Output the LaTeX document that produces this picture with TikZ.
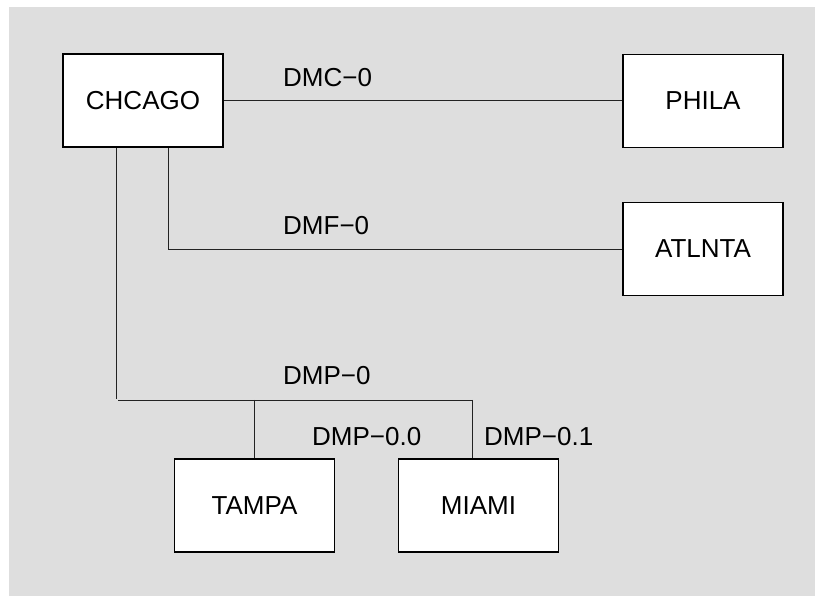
\documentclass[tikz,border=0pt]{standalone}
\usepackage{fontspec}
\setmainfont{Liberation Sans}
\definecolor{bggray}{HTML}{DEDEDE}
\definecolor{linegray}{HTML}{222222}
\begin{document}
\begin{tikzpicture}[x=1pt,y=1pt,
  box/.style={draw=black, line width=1.8pt, fill=white, minimum width=160pt, minimum height=93pt, font=\fontsize{26}{31}\selectfont, inner sep=0pt},
  link/.style={line width=0.9pt, draw=linegray},
  lbl/.style={anchor=base west, inner sep=0pt, font=\fontsize{26}{31}\selectfont}]
\useasboundingbox (0,0) rectangle (817,596);
\fill[bggray] (9,0) rectangle (815,589);
\node[box] (CHCAGO) at (143,495.5) {CHCAGO};
\node[box] (PHILA) at (703,495) {PHILA};
\node[box] (ATLNTA) at (703,347) {ATLNTA};
\node[box] (TAMPA) at (254.5,90.5) {TAMPA};
\node[box] (MIAMI) at (478.5,90.5) {MIAMI};
% connectors
\draw[link] (CHCAGO.east) -- (CHCAGO.east -| PHILA.west);
\coordinate (f) at (168,347);
\draw[link] (CHCAGO.south -| f) -- (f) -- (ATLNTA.west);
\coordinate (p1) at (116,197);
\draw[link] (CHCAGO.south -| p1) -- (p1);
\coordinate (pl) at (118,196);
\coordinate (pr) at (473,196);
\draw[link] (pl) -- (pr);
\coordinate (t) at (254,196);
\draw[link] (t) -- (t |- TAMPA.north);
\coordinate (m) at (472,196);
\draw[link] (m) -- (m |- MIAMI.north);
% labels
\node[lbl] (l1) at (283,509) {DMC−0};
\node[lbl] (l2) at (283,361) {DMF−0};
\node[lbl] (l3) at (283,211) {DMP−0};
\node[lbl] (l4) at (312,150) {DMP−0.0};
\node[lbl] (l5) at (484,150) {DMP−0.1};
\end{tikzpicture}
\end{document}
